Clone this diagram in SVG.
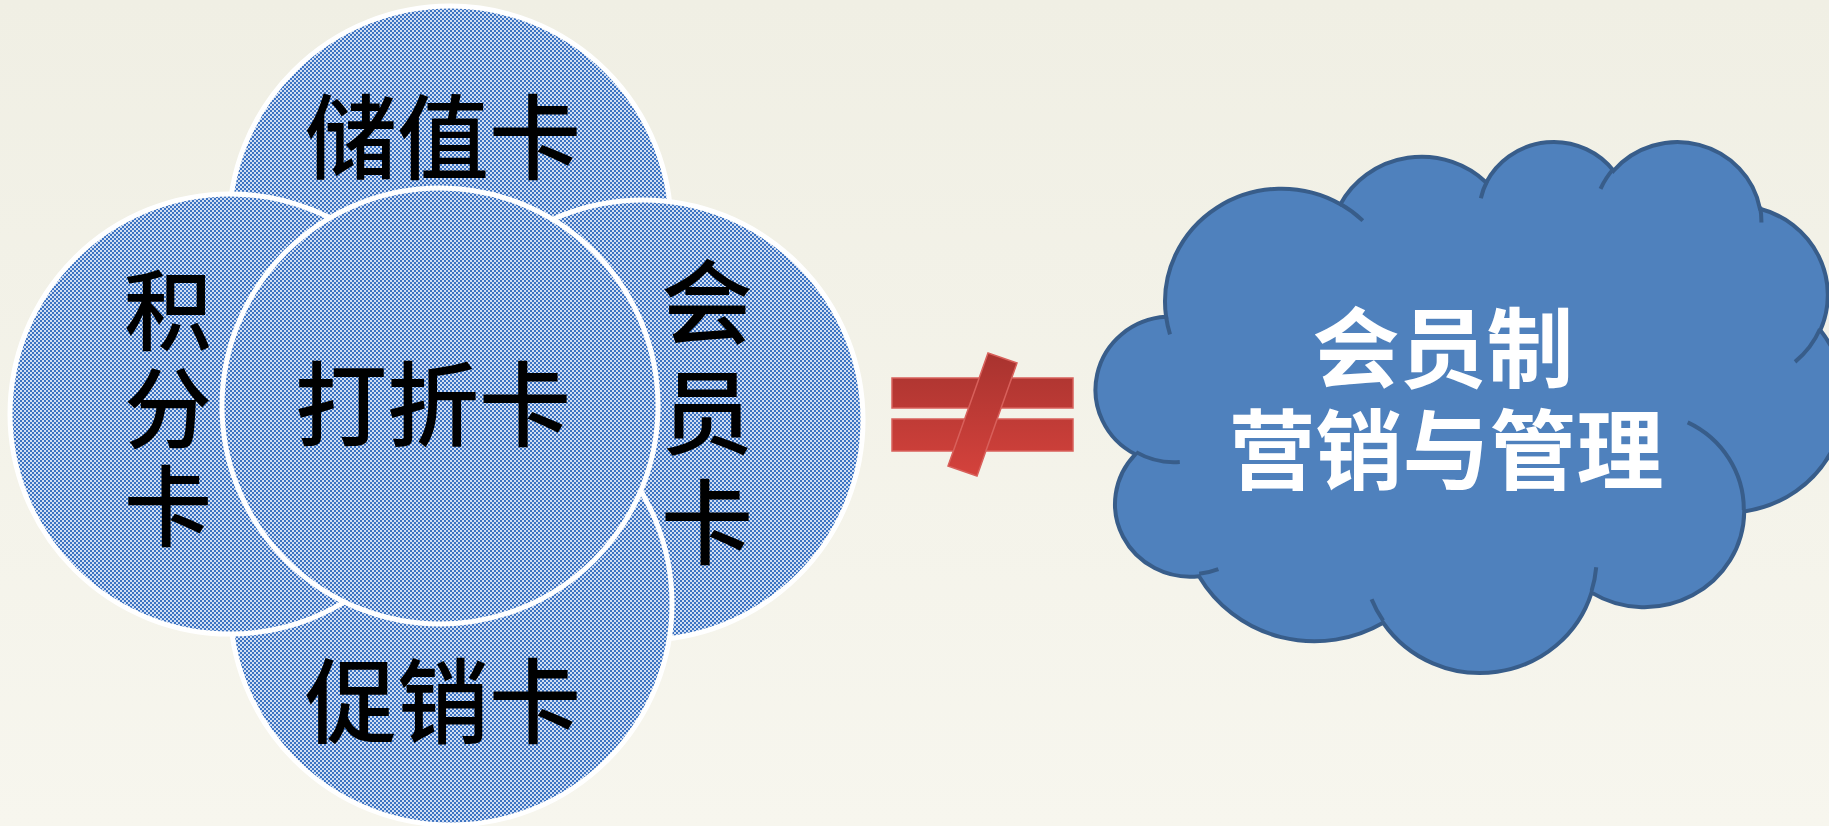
<svg xmlns="http://www.w3.org/2000/svg" width="1829" height="826" viewBox="0 0 1829 826">
  <defs>
    <linearGradient id="bg" x1="0" y1="0" x2="0" y2="1">
      <stop offset="0" stop-color="#f0efe4"/>
      <stop offset="1" stop-color="#f7f6ee"/>
    </linearGradient>
    <pattern id="checker" patternUnits="userSpaceOnUse" x="0" y="0" width="4" height="4">
      <rect width="4" height="4" fill="#d2def2"/>
      <rect x="0" y="0" width="2" height="2" fill="#3c73c2"/>
      <rect x="2" y="2" width="2" height="2" fill="#3c73c2"/>
    </pattern>
    <linearGradient id="red" gradientUnits="userSpaceOnUse" x1="0" y1="353" x2="0" y2="476">
      <stop offset="0" stop-color="#a8332f"/>
      <stop offset="1" stop-color="#d4423c"/>
    </linearGradient>
    <style>
      .circ { fill: url(#checker); stroke: #ffffff; stroke-width: 5; }
      .ctext { font-family: "Noto Sans CJK SC", "Noto Sans CJK TC", sans-serif; font-size: 92px; font-weight: 500; fill: #000000; text-anchor: middle; dominant-baseline: central; }
      .vtext { font-family: "Noto Sans CJK SC", "Noto Sans CJK TC", sans-serif; font-weight: 500; fill: #000000; text-anchor: middle; writing-mode: vertical-rl; }
      .cloudtext { font-family: "Noto Sans CJK SC", "Noto Sans CJK TC", sans-serif; font-size: 87px; font-weight: 700; fill: #ffffff; text-anchor: middle; dominant-baseline: central; }
      .neq { fill: url(#red); stroke: #d8605b; stroke-width: 1.5; }
      .cloud { fill: #4f81bd; stroke: #385d8a; stroke-width: 4; }
      .cloudline { fill: none; stroke: #385d8a; stroke-width: 4; }
    </style>
  </defs>

  <rect x="0" y="0" width="1829" height="826" fill="url(#bg)"/>

  <g id="node-storedvalue">
    <circle class="circ" cx="450" cy="227" r="221"/>
  </g>
  <g id="node-member">
    <circle class="circ" cx="643" cy="420" r="220"/>
  </g>
  <g id="node-promo">
    <circle class="circ" cx="451" cy="604" r="221"/>
  </g>
  <g id="node-points">
    <circle class="circ" cx="230" cy="414" r="220"/>
  </g>
  <g id="node-discount">
    <circle class="circ" cx="440" cy="406" r="218"/>
  </g>

  <g id="labels-circles">
    <text class="ctext" x="443" y="131">储值卡</text>
    <text class="ctext" x="433" y="398">打折卡</text>
    <text class="ctext" x="443" y="695">促销卡</text>
    <text class="vtext" x="168" y="413" style="font-size:88px; letter-spacing:10px">积分卡</text>
    <text class="vtext" x="707" y="421" style="font-size:92px; letter-spacing:18px">会员卡</text>
  </g>

  <g id="connectors">
    <g id="not-equal">
      <rect class="neq" x="892" y="378" width="181" height="30"/>
      <rect class="neq" x="892" y="419" width="181" height="32"/>
      <polygon class="neq" points="988,353 1017,363 977,476 948,466"/>
    </g>
  </g>

  <g id="node-cloud">
    <g transform="translate(1098.8,140.3) scale(0.017255,0.012287)">
      <path class="cloud" vector-effect="non-scaling-stroke" d="M3900,14370 A6753,9190 0 0 1 14004.3,5201.7 A5333,7267 0 0 1 22455.1,3431.8 A4365,5945 0 0 1 29831.7,2478.1 A4857,6595 0 0 1 38317.3,5572.8 A5333,7273 0 0 1 41817.7,15456.4 A6775,9220 0 0 1 37405,30202.2 A5785,7867 0 0 1 28556.5,36812.3 A6752,9215 0 0 1 16481.5,39264.6 A7720,10543 0 0 1 5806.7,35476 A4360,5918 0 0 1 2114.4,25555.6 A4345,5945 0 0 1 3900,14370 Z"/>
      <path class="cloudline" vector-effect="non-scaling-stroke" d="M4693,26177 A4345,5945 0 0 1 2159.2,25379.4 M6928,34899 A4360,5918 0 0 1 5819.7,35280.4 M16478,39090 A6752,9215 0 0 1 15809.7,37348.3 M28827,34751 A6752,9215 0 0 1 28560.4,36660 M34129,22954 A5785,7867 0 0 1 37380.6,30089.8 M41798,15354 A5333,7273 0 0 1 40350.1,18030.1 M38324,5426 A4857,6595 0 0 1 38400.4,6689.5 M29078,3952 A4857,6595 0 0 1 29819.9,2339.2 M22141,4720 A4365,5945 0 0 1 22499.9,3330.8 M14000,5192 A6753,9190 0 0 1 15300.6,6541 M4127,15789 A6753,9190 0 0 1 3900.5,14371.2"/>
    </g>
    <text class="cloudtext"><tspan x="1443" y="343">会员制</tspan><tspan x="1446" y="445">营销与管理</tspan></text>
  </g>
</svg>
